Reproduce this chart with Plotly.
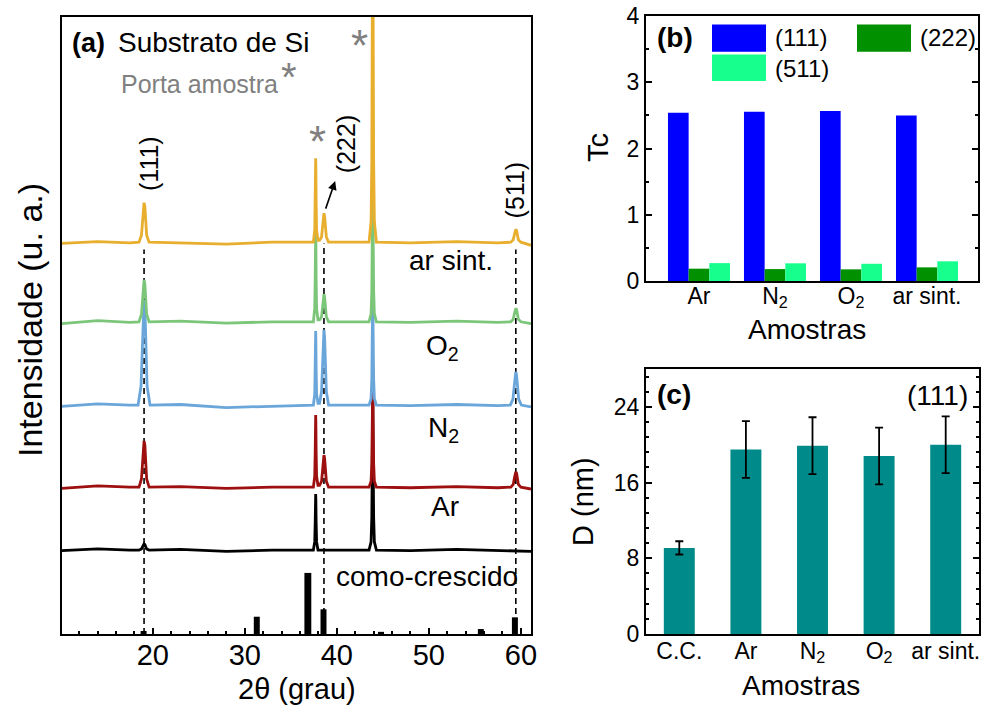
import plotly.graph_objects as go

FONT = "Arial, Liberation Sans, sans-serif"

# ---------------- Panel (a): XRD patterns (2theta in degrees, intensity in a.u.) ----------------
TT_MAIN = [10.1, 14.0, 17.5,
           18.5, 18.77, 18.9, 18.96, 19.05, 19.14, 19.2, 19.33, 19.6,
           23.0, 28.0, 33.0,
           37.45, 37.6, 37.65, 37.68, 37.7, 37.72, 37.75, 37.8, 37.95,
           38.12, 38.34, 38.46, 38.53, 38.6, 38.67, 38.74, 38.86, 39.1,
           41.5,
           43.5, 43.72, 43.8, 43.86, 43.9, 43.94, 44.0, 44.08, 44.3,
           48.0, 53.0, 57.5,
           58.9, 59.17, 59.3, 59.37, 59.45, 59.53, 59.6, 59.73, 60.0,
           61.1]

TT_AR_SINT = TT_MAIN
I_AR_SINT = [63.3, 63.6, 63.4,
             63.5, 64.65, 67.34, 69.26, 69.9, 69.26, 67.34, 64.65, 63.5,
             63.4, 63.2, 63.5,
             63.5, 65.54, 70.3, 75.74, 77.1, 75.74, 70.3, 65.54, 63.8,
             63.8, 64.35, 66.32, 67.73, 68.2, 67.73, 66.32, 64.35, 63.5,
             63.5,
             63.5, 66.83, 76.8, 103.4, 130.0, 103.4, 76.8, 66.83, 63.5,
             63.4, 63.6, 63.4,
             63.5, 63.88, 64.76, 65.39, 65.6, 65.39, 64.76, 63.88, 63.5,
             63.0]

TT_O2 = TT_MAIN
I_O2 = [50.3, 50.8, 50.5,
        50.6, 51.82, 54.68, 56.72, 57.4, 56.72, 54.68, 51.82, 50.6,
        50.7, 50.4, 50.6,
        50.6, 52.79, 57.9, 63.74, 65.2, 63.74, 57.9, 52.79, 50.9,
        50.9, 51.41, 53.3, 54.65, 55.1, 54.65, 53.3, 51.41, 50.6,
        50.6,
        50.6, 51.87, 55.68, 65.84, 76.0, 65.84, 55.68, 51.87, 50.6,
        50.5, 50.7, 50.5,
        50.6, 51.0, 51.92, 52.58, 52.8, 52.58, 51.92, 51.0, 50.6,
        50.3]

TT_N2 = [10.1, 14.0, 17.5,
         18.4, 18.72, 18.87, 18.95, 19.05, 19.15, 19.23, 19.38, 19.7,
         23.0, 28.0, 33.0,
         37.45, 37.6, 37.65, 37.68, 37.7, 37.72, 37.75, 37.8, 37.95,
         38.12, 38.34, 38.46, 38.53, 38.6, 38.67, 38.74, 38.86, 39.1,
         41.5,
         43.5, 43.72, 43.8, 43.86, 43.9, 43.94, 44.0, 44.08, 44.3,
         48.0, 53.0, 57.5,
         58.85, 59.14, 59.29, 59.37, 59.45, 59.53, 59.61, 59.76, 60.05,
         61.1]
I_N2 = [36.9, 37.3, 37.1,
        37.1, 40.16, 47.3, 52.4, 54.1, 52.4, 47.3, 40.16, 37.1,
        37.2, 36.7, 36.9,
        37.1, 38.9, 43.1, 47.9, 49.1, 47.9, 43.1, 38.9, 37.4,
        37.4, 39.3, 44.42, 48.08, 49.3, 48.08, 44.42, 39.3, 37.1,
        37.1,
        37.1, 38.15, 41.28, 49.64, 58.0, 49.64, 41.28, 38.15, 37.1,
        37.0, 37.2, 37.0,
        37.1, 38.07, 40.34, 41.96, 42.5, 41.96, 40.34, 38.07, 37.1,
        36.8]

TT_AR = TT_MAIN
I_AR = [23.6, 24.0, 23.8,
        23.8, 25.15, 28.3, 30.55, 31.3, 30.55, 28.3, 25.15, 23.8,
        23.9, 23.6, 23.8,
        23.8, 25.56, 29.65, 34.33, 35.5, 34.33, 29.65, 25.56, 24.1,
        24.1, 24.74, 26.92, 28.48, 29.0, 28.48, 26.92, 24.74, 23.8,
        23.8,
        23.8, 24.76, 27.64, 35.32, 43.0, 35.32, 27.64, 24.76, 23.8,
        23.7, 23.9, 23.7,
        23.8, 24.25, 25.3, 26.05, 26.3, 26.05, 25.3, 24.25, 23.8,
        23.5]

TT_CC = [10.1, 14.0, 17.5,
         18.5, 18.77, 18.9, 18.96, 19.05, 19.14, 19.2, 19.33, 19.6,
         23.0, 28.0, 33.0,
         37.45, 37.6, 37.65, 37.68, 37.7, 37.72, 37.75, 37.8, 37.95,
         41.5,
         43.5, 43.72, 43.8, 43.86, 43.9, 43.94, 44.0, 44.08, 44.3,
         48.0, 53.0, 57.5, 61.1]
I_CC = [13.5, 13.8, 13.6,
        13.6, 13.78, 14.2, 14.5, 14.6, 14.5, 14.2, 13.78, 13.6,
        13.7, 13.4, 13.6,
        13.6, 14.97, 18.15, 21.79, 22.7, 21.79, 18.15, 14.97, 13.6,
        13.6,
        13.6, 14.92, 18.88, 29.44, 40.0, 29.44, 18.88, 14.92, 13.6,
        13.5, 13.7, 13.5, 13.4]

# reference pattern (bars)
REF_POS = [19.0, 31.3, 36.85, 38.55, 44.8, 55.65, 59.35]
REF_INT = [0.5, 2.8, 9.9, 4.0, 0.35, 0.8, 2.7]
REF_W = [0.65, 0.65, 0.75, 0.65, 0.65, 0.65, 0.65]

# guide lines
GUIDE_POS = [19.05, 38.6, 59.45]
GUIDE_TOP = [62.3, 63.3, 62.3]

# ---------------- Panel (b): texture coefficient ----------------
SAMPLES_B = ["Ar", "N<sub>2</sub>", "O<sub>2</sub>", "ar sint."]
TC_111 = [2.54, 2.556, 2.566, 2.50]
TC_222 = [0.186, 0.18, 0.176, 0.206]
TC_511 = [0.27, 0.267, 0.26, 0.297]

# ---------------- Panel (c): crystallite size ----------------
SAMPLES_C = ["C.C.", "Ar", "N<sub>2</sub>", "O<sub>2</sub>", "ar sint."]
D_111 = [9.1, 19.5, 19.9, 18.8, 20.0]
D_ERR = [0.7, 3.0, 3.0, 3.0, 3.0]

W, H = 984, 706
def px(x):
    return x / W
def py(y):
    return 1 - y / H

fig = go.Figure()

# panel (a) traces (bottom to top drawing order)
fig.add_trace(go.Bar(x=REF_POS, y=REF_INT, width=REF_W, marker=dict(color="black", line=dict(width=0)),
                     xaxis="x", yaxis="y", showlegend=False))
for gx, gt in zip(GUIDE_POS, GUIDE_TOP):
    fig.add_trace(go.Scatter(x=[gx, gx], y=[0, gt], mode="lines",
                             line=dict(color="black", width=1.6, dash="6px,4px"),
                             xaxis="x", yaxis="y", showlegend=False))
series_a = [(TT_CC, I_CC, "#000000"),
            (TT_AR, I_AR, "#9E1010"),
            (TT_N2, I_N2, "#6AA6DA"),
            (TT_O2, I_O2, "#7CC67A"),
            (TT_AR_SINT, I_AR_SINT, "#E8AE2E")]
for xs, ys, col in series_a:
    fig.add_trace(go.Scatter(x=xs, y=ys, mode="lines", line=dict(color=col, width=2.8),
                             xaxis="x", yaxis="y", showlegend=False))

# panel (b) bars
xb = list(range(len(SAMPLES_B)))
for vals, col in [(TC_111, "#0000FF"), (TC_222, "#009000"), (TC_511, "#17FF8C")]:
    fig.add_trace(go.Bar(x=xb, y=vals, marker=dict(color=col, line=dict(width=0)),
                         xaxis="x2", yaxis="y2", showlegend=False))

# panel (c) bars
xc = list(range(len(SAMPLES_C)))
fig.add_trace(go.Bar(x=xc, y=D_111, width=0.465, marker=dict(color="#008B8A", line=dict(width=0)),
                     error_y=dict(type="data", array=D_ERR, visible=True, color="black",
                                  thickness=1.8, width=4),
                     xaxis="x3", yaxis="y3", showlegend=False))

base = dict(showgrid=False, zeroline=False, showline=True, linecolor="black",
            tickcolor="black", automargin=False)
tf23 = dict(family=FONT, size=23, color="black")

fig.update_layout(
    width=W, height=H, autosize=False,
    margin=dict(l=0, r=0, t=0, b=0, pad=0),
    paper_bgcolor="white", plot_bgcolor="white",
    barmode="group", bargap=0.184, bargroupgap=0,
    showlegend=False,
    font=dict(family=FONT, color="black"),
    xaxis=dict(domain=[px(61.7), px(531)], range=[10.1, 61.1], tick0=0, dtick=10,
               ticks="inside", ticklen=6, tickwidth=1.5, mirror=True, linewidth=1.5,
               minor=dict(dtick=2, ticks="inside", ticklen=3, tickcolor="black"),
               tickfont=dict(family=FONT, size=29, color="black"), ticklabelstandoff=-6,
               anchor="y", **base),
    yaxis=dict(domain=[py(634), py(17)], range=[0, 100], showticklabels=False, ticks="",
               mirror=True, linewidth=1.5, anchor="x", **base),
    xaxis2=dict(domain=[px(646), px(978)], range=[-0.697, 3.671], tickmode="array",
                tickvals=xb, ticktext=SAMPLES_B, ticks="", mirror=True, linewidth=2,
                anchor="y2", tickfont=tf23, ticklabelstandoff=-7, **base),
    yaxis2=dict(domain=[py(281), py(16)], range=[0, 4], dtick=1, ticks="inside", ticklen=6,
                tickwidth=1.5, mirror="ticks", linewidth=2, anchor="x2",
                minor=dict(dtick=0.5, ticks="inside", ticklen=3, tickcolor="black"),
                tickfont=tf23, **base),
    xaxis3=dict(domain=[px(646), px(979)], range=[-0.5, 4.5], tickmode="array",
                tickvals=xc, ticktext=SAMPLES_C, ticks="", mirror=True, linewidth=2,
                anchor="y3", tickfont=tf23, ticklabelstandoff=-5, **base),
    yaxis3=dict(domain=[py(634), py(369)], range=[0, 28], tickmode="array",
                tickvals=[0, 8, 16, 24], ticks="inside", ticklen=6, tickwidth=1.5,
                mirror="ticks", linewidth=2, anchor="x3",
                minor=dict(tick0=0, dtick=1.6, ticks="inside", ticklen=3, tickcolor="black"),
                tickfont=tf23, **base),
)

ann = []
def txt(x, y, text, size, xref="paper", yref="paper", color="black", angle=0,
        xanchor="center", yanchor="middle"):
    ann.append(dict(x=x, y=y, xref=xref, yref=yref, text=text, showarrow=False,
                    font=dict(family=FONT, size=size, color=color), textangle=angle,
                    xanchor=xanchor, yanchor=yanchor))

# axis titles
txt(px(30), py(320), "Intensidade (u. a.)", 34, angle=-90)
txt(px(297), py(689), "2θ (grau)", 29)
txt(px(598), py(148), "Tc", 29, angle=-90)
txt(px(807), py(330), "Amostras", 28)
txt(px(583), py(502), "D (nm)", 29, angle=-90)
txt(px(801), py(685), "Amostras", 28)

# panel (a) texts (data coordinates)
txt(11.0, 95.8, "<b>(a)</b>", 27, "x", "y", xanchor="left")
txt(15.95, 95.8, "Substrato de Si", 28, "x", "y", xanchor="left")
txt(16.35, 89.1, "Porta amostra", 25, "x", "y", color="#808080", xanchor="left")
txt(34.85, 90.2, "*", 40, "x", "y", color="#808080")
txt(42.41, 95.4, "*", 44, "x", "y", color="#808080")
txt(37.88, 79.9, "*", 44, "x", "y", color="#808080")
txt(19.56, 76.3, "(111)", 25, "x", "y", angle=-90)
txt(41.0, 79.4, "(222)", 25, "x", "y", angle=-90)
txt(59.32, 72.0, "(511)", 25, "x", "y", angle=-90)
txt(52.4, 60.6, "ar sint.", 28, "x", "y")
txt(51.5, 46.5, "O<sub>2</sub>", 28, "x", "y")
txt(51.6, 33.2, "N<sub>2</sub>", 28, "x", "y")
txt(51.8, 20.6, "Ar", 28, "x", "y")
txt(49.75, 9.4, "como-crescido", 28, "x", "y")
ann.append(dict(x=39.82, y=73.4, xref="x", yref="y", ax=38.73, ay=68.7, axref="x", ayref="y",
                text="", showarrow=True, arrowhead=2, arrowsize=1.1, arrowwidth=1.6,
                arrowcolor="black"))

# panel (b) label and legend
txt(px(675), py(38), "<b>(b)</b>", 28)
txt(px(773), py(38), "(111)", 24, xanchor="left")
txt(px(918), py(38), "(222)", 24, xanchor="left")
txt(px(773), py(68), "(511)", 24, xanchor="left")
shapes = []
for (x0, x1, y0, y1, col) in [(712, 766, 24.5, 51.7, "#0000FF"),
                              (857, 911, 24.5, 51.7, "#009000"),
                              (712, 766, 54.5, 81, "#17FF8C")]:
    shapes.append(dict(type="rect", xref="paper", yref="paper", x0=px(x0), x1=px(x1),
                       y0=py(y1), y1=py(y0), fillcolor=col, line=dict(width=0)))

# panel (c) labels
txt(px(674), py(394), "<b>(c)</b>", 28)
txt(px(937), py(395), "(111)", 28)

fig.update_layout(annotations=ann, shapes=shapes)
fig.write_html("out.html")
